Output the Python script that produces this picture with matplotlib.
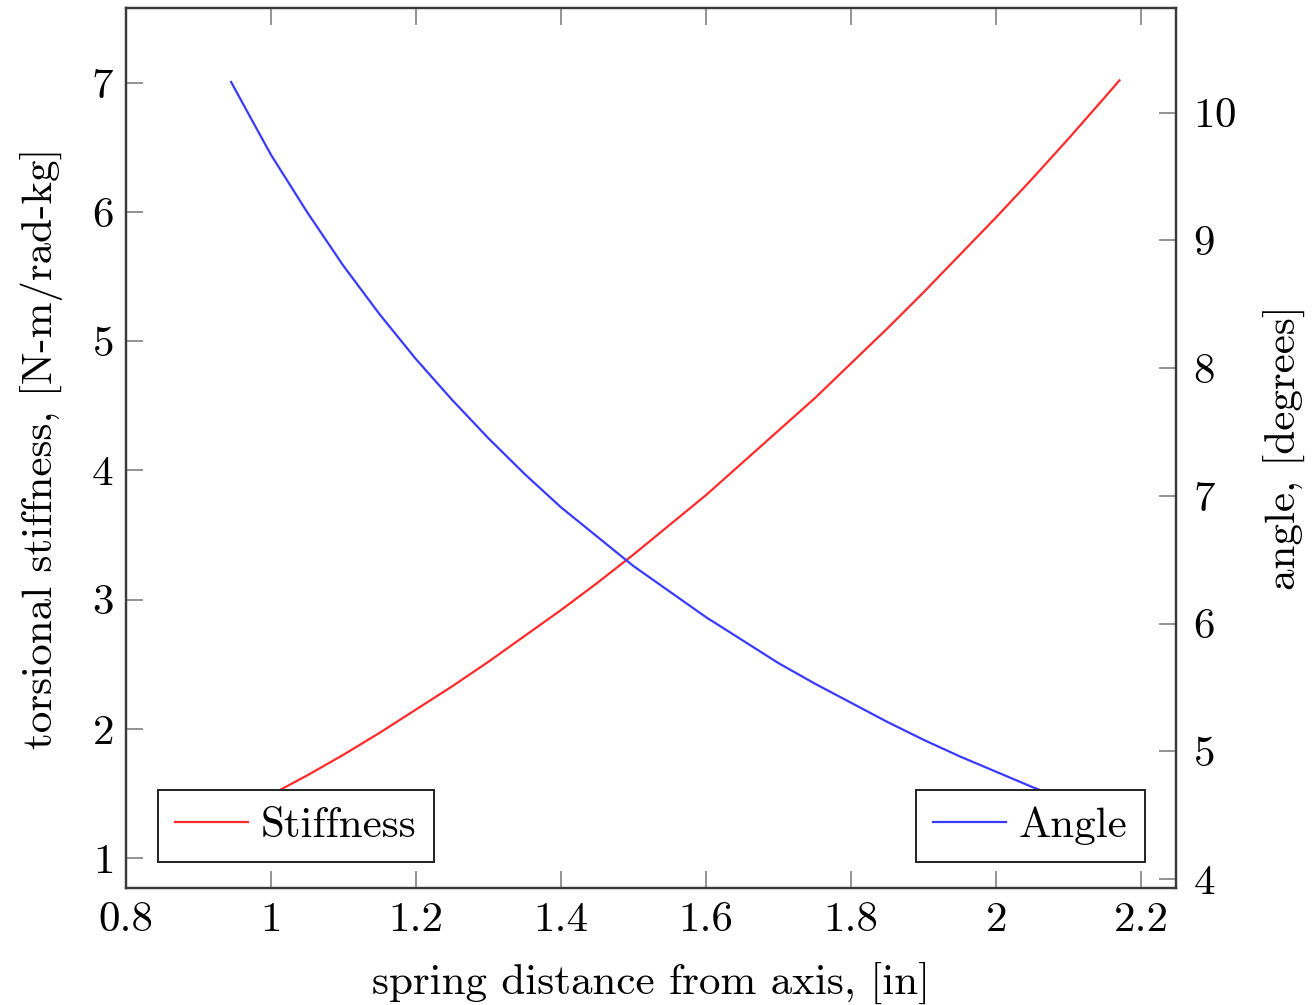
import matplotlib
matplotlib.use("Agg")
import matplotlib.pyplot as plt

# values
r_in = [0.945, 0.97, 1.0, 1.05, 1.1, 1.15, 1.2, 1.25, 1.3, 1.35, 1.4, 1.45, 1.5,
        1.55, 1.6, 1.65, 1.7, 1.75, 1.8, 1.85, 1.9, 1.95, 2.0, 2.05, 2.1, 2.15, 2.17]
stiffness = [1.33, 1.40, 1.49, 1.64, 1.80, 1.97, 2.15, 2.33, 2.52, 2.72, 2.92, 3.13, 3.35,
             3.58, 3.81, 4.06, 4.31, 4.56, 4.83, 5.10, 5.38, 5.67, 5.96, 6.26, 6.57, 6.89, 7.02]
angle = [10.24, 9.98, 9.67, 9.22, 8.80, 8.42, 8.07, 7.75, 7.45, 7.17, 6.91, 6.68, 6.45,
         6.25, 6.05, 5.87, 5.69, 5.53, 5.38, 5.23, 5.09, 4.96, 4.84, 4.72, 4.61, 4.50, 4.46]

x_ticks = [0.8, 1.0, 1.2, 1.4, 1.6, 1.8, 2.0, 2.2]
x_labels = ["0.8", "1", "1.2", "1.4", "1.6", "1.8", "2", "2.2"]
left_ticks = [1, 2, 3, 4, 5, 6, 7]
right_ticks = [4, 5, 6, 7, 8, 9, 10]

plt.rcParams['font.family'] = ['cmr10', 'DejaVu Serif']
plt.rcParams['axes.formatter.use_mathtext'] = True
fs = 31
spine_col = '#3a3a3a'
tick_col = '#8a8a8a'

fig = plt.figure(figsize=(13.15, 10.05), dpi=100)
ax = fig.add_axes([126/1315, 117/1005, 1050/1315, 880/1005])
ax2 = ax.twinx()

l1, = ax.plot(r_in, stiffness, color='#ff2a2a', lw=1.6)
l2, = ax2.plot(r_in, angle, color='#3a3aff', lw=1.6)

ax.set_xlim(0.8, 2.248)
ax.set_ylim(0.768, 7.58)
ax2.set_ylim(3.93, 10.82)

ax.set_xticks(x_ticks)
ax.set_xticklabels(x_labels)
ax.set_yticks(left_ticks)
ax2.set_yticks(right_ticks)

ax.tick_params(axis='x', direction='in', top=True, bottom=True, length=12,
               width=1.3, color=tick_col, labelsize=fs, pad=10)
ax.tick_params(axis='y', direction='in', left=True, right=False, length=12,
               width=1.3, color=tick_col, labelsize=fs, pad=9)
ax2.tick_params(axis='y', direction='in', right=True, length=12,
                width=1.3, color=tick_col, labelsize=fs, pad=12)

for a in (ax, ax2):
    for s in a.spines.values():
        s.set_color(spine_col)
        s.set_linewidth(1.6)

ax.set_xlabel("spring distance from axis, [in]", fontsize=fs, labelpad=16)
ax.set_ylabel("torsional stiffness, [N-m/rad-kg]", fontsize=fs, labelpad=20)
ax2.set_ylabel("angle, [degrees]", fontsize=fs, labelpad=19)

leg1 = ax2.legend([l1], ["Stiffness"], loc='lower left', bbox_to_anchor=(0.03, 0.029),
                  borderaxespad=0, fontsize=fs, fancybox=False, framealpha=1,
                  edgecolor='#222222', handlelength=1.7, handletextpad=0.3,
                  borderpad=0.4)
leg1.get_frame().set_linewidth(1.4)
ax2.add_artist(leg1)
leg2 = ax2.legend([l2], ["Angle"], loc='lower right', bbox_to_anchor=(0.9705, 0.029),
                  borderaxespad=0, fontsize=fs, fancybox=False, framealpha=1,
                  edgecolor='#222222', handlelength=1.7, handletextpad=0.3,
                  borderpad=0.4)
leg2.get_frame().set_linewidth(1.4)

fig.savefig("out.png", dpi=100)
